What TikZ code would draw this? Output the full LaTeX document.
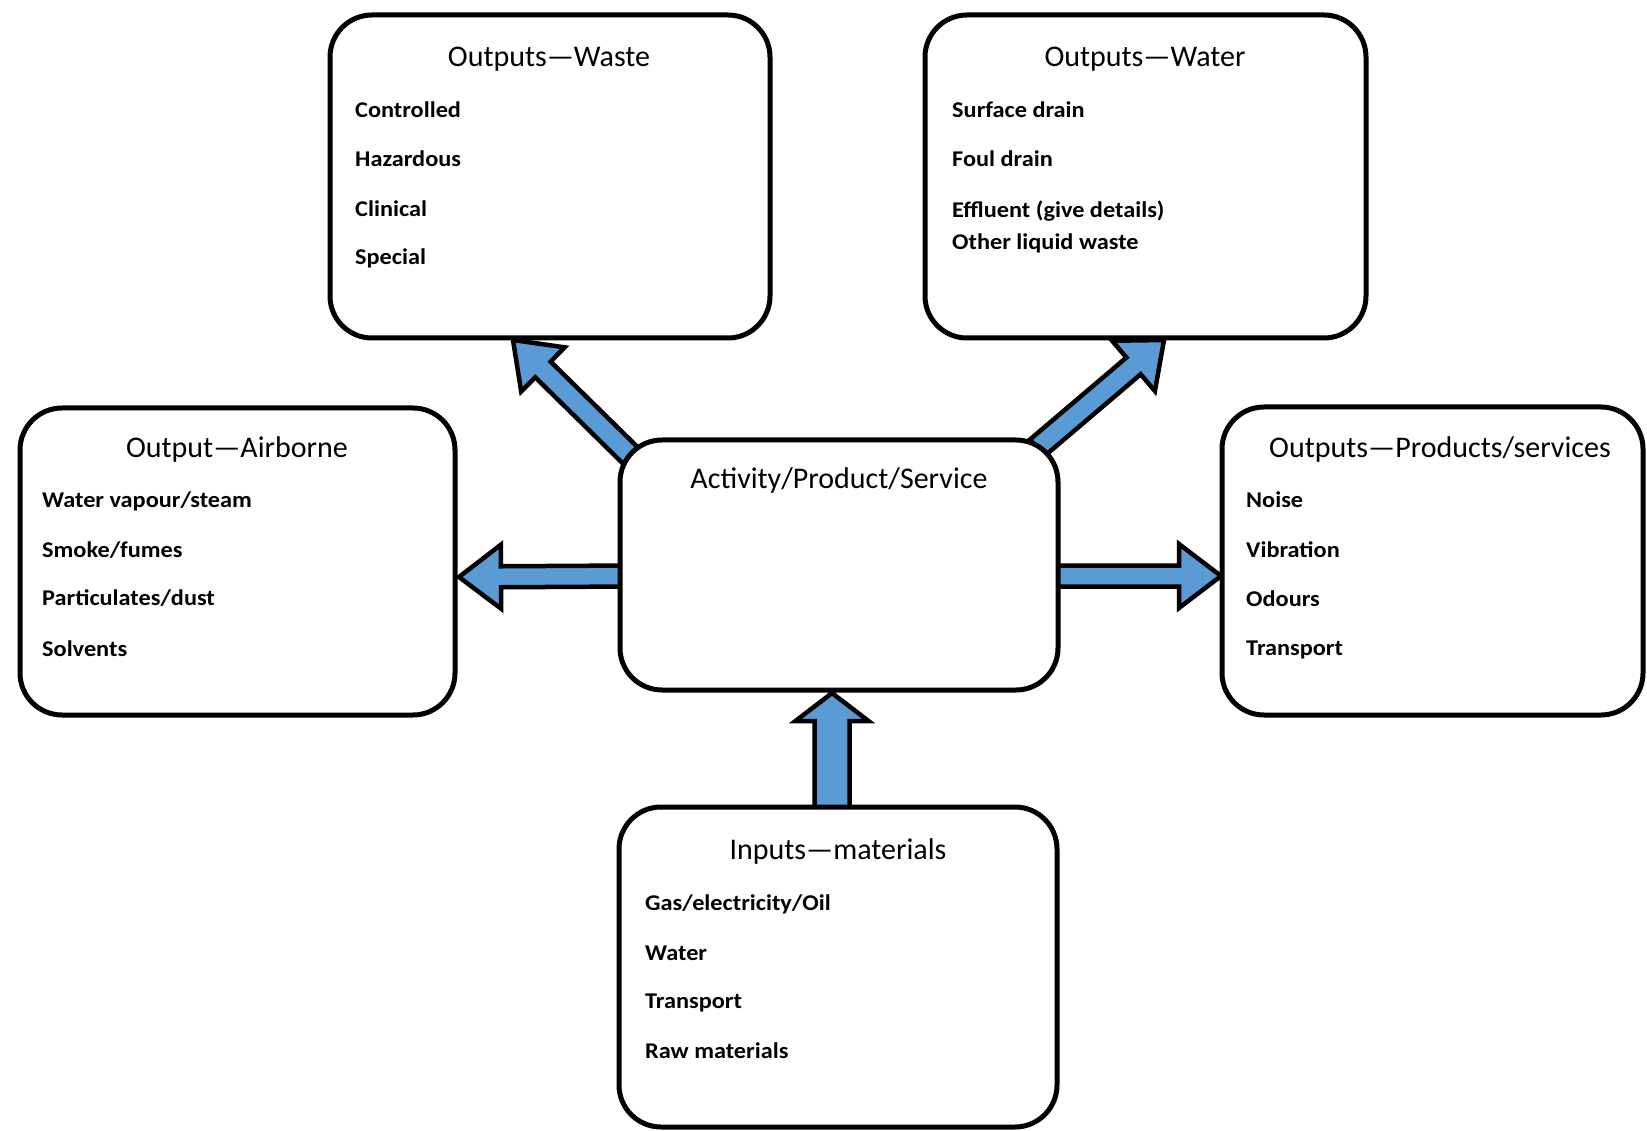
\documentclass[tikz,border=0pt]{standalone}
\usepackage{fontspec}
\setmainfont{Carlito}
\newfontfamily\itmfont{Carlito}[FakeStretch=1.08]
\usetikzlibrary{calc,backgrounds}
\definecolor{arrowblue}{HTML}{5B9BD5}
\tikzset{
  box/.style={draw=black, line width=5pt, rounded corners=42pt, fill=white, inner sep=0pt},
  ttl/.style={anchor=base, inner sep=0pt, font=\fontsize{30}{31}\selectfont},
  itm/.style={anchor=base west, inner sep=0pt, font=\itmfont\fontsize{22.5}{24}\selectfont\bfseries},
  blk/.style={fill=arrowblue, draw=black, line width=4.5pt, line join=miter, miter limit=4}
}
\newcommand{\blockarrow}[5]{%
  \draw[blk] ($(#1)!#3!90:(#2)$) -- ($(#2)!#5!(#1)!#3!-90:(#1)$)
    -- ($(#2)!#5!(#1)!#4!-90:(#1)$) -- (#2)
    -- ($(#2)!#5!(#1)!#4!90:(#1)$) -- ($(#2)!#5!(#1)!#3!90:(#1)$)
    -- ($(#1)!#3!-90:(#2)$) -- cycle;}
\begin{document}
\begin{tikzpicture}[x=1pt, y=-1pt]
\useasboundingbox (0,0) rectangle (1647,1131);
% boxes
\node[box, minimum width=440pt, minimum height=323pt] (waste) at (550,176.5) {};
\node[box, minimum width=441pt, minimum height=323pt] (water) at (1145.5,176.5) {};
\node[box, minimum width=435pt, minimum height=307pt] (air) at (237.5,561.5) {};
\node[box, minimum width=421pt, minimum height=308pt] (prod) at (1432.5,561) {};
\node[box, minimum width=438pt, minimum height=250pt] (act) at (839,565) {};
\node[box, minimum width=438pt, minimum height=320pt] (inp) at (838,967) {};
% texts
\node[ttl] (wasteT) at (549,67) {Outputs—Waste};
\node[itm] (w1) at (355,118) {Controlled};
\node[itm] (w2) at (355,167) {Hazardous};
\node[itm] (w3) at (355,217) {Clinical};
\node[itm] (w4) at (355,265) {Special};
\node[ttl] (waterT) at (1145,67) {Outputs—Water};
\node[itm] (a1) at (952,118) {Surface drain};
\node[itm] (a2) at (952,167) {Foul drain};
\node[itm] (a3) at (952,218) {Effluent (give details)};
\node[itm] (a4) at (952,250) {Other liquid waste};
\node[ttl] (airT) at (237,457) {Output—Airborne};
\node[itm] (b1) at (42,507) {Water vapour/steam};
\node[itm] (b2) at (42,557) {Smoke/fumes};
\node[itm] (b3) at (42,605) {Particulates/dust};
\node[itm] (b4) at (42,656) {Solvents};
\node[ttl] (prodT) at (1440,457) {Outputs—Products/services};
\node[itm] (p1) at (1246,507) {Noise};
\node[itm] (p2) at (1246,557) {Vibration};
\node[itm] (p3) at (1246,606) {Odours};
\node[itm] (p4) at (1246,655) {Transport};
\node[ttl] (actT) at (839,488) {Activity/Product/Service};
\node[ttl] (inpT) at (838,859) {Inputs—materials};
\node[itm] (i1) at (645,910) {Gas/electricity/Oil};
\node[itm] (i2) at (645,960) {Water};
\node[itm] (i3) at (645,1008) {Transport};
\node[itm] (i4) at (645,1058) {Raw materials};
% arrow end points
\coordinate (lTail) at (632,576);
\coordinate (lTip) at (459,577);
\coordinate (rTail) at (1046,576);
\coordinate (rTip) at (1221,576);
\coordinate (uTail) at (832,815);
\coordinate (uTip) at (832,693);
\coordinate (nwTail) at (634,459);
\coordinate (nwTip) at (513,340);
\coordinate (neTail) at (1037,448);
\coordinate (neTip) at (1164,340);
\begin{pgfonlayer}{background}
\blockarrow{lTail}{lTip}{10.5pt}{32pt}{42pt}
\blockarrow{rTail}{rTip}{10.5pt}{32pt}{42pt}
\blockarrow{uTail}{uTip}{17.5pt}{36.5pt}{28pt}
\blockarrow{nwTail}{nwTip}{11pt}{31pt}{42pt}
\blockarrow{neTail}{neTip}{11pt}{33pt}{40pt}
\end{pgfonlayer}
\end{tikzpicture}
\end{document}
